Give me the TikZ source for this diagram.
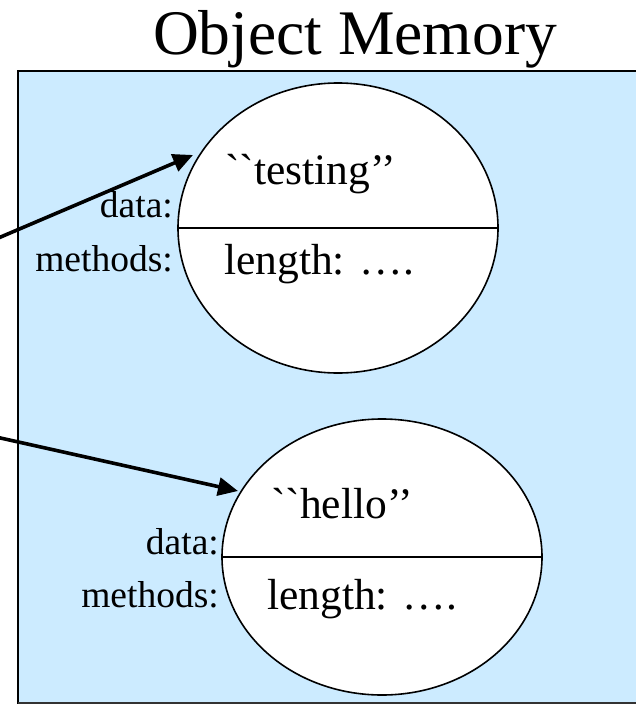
\documentclass[tikz,border=0pt]{standalone}
\usepackage{fontspec}
\setmainfont{Liberation Serif}[Ligatures=TeXOff]
\usetikzlibrary{shapes.geometric,arrows.meta}
\definecolor{memblue}{RGB}{204,235,255}
\begin{document}
\begin{tikzpicture}[x=1pt,y=-1pt,
  obj/.style={ellipse,draw,line width=1.6pt,fill=white,inner sep=0pt,minimum width=320pt},
  big/.style={font=\fontsize{43.5}{48}\selectfont,inner sep=0pt,anchor=base west},
  lbl/.style={font=\fontsize{37.5}{42}\selectfont,inner sep=0pt,anchor=base east},
  ptr/.style={line width=3.6pt,-{Triangle[length=20pt,width=18pt]}}]
\useasboundingbox (0,0) rectangle (635,704);
% memory area
\fill[memblue] (18,71) rectangle (640,703);
\draw[line width=2pt] (18,710) -- (18,71) -- (640,71);
\draw[line width=2pt,black!80] (18,703) -- (640,703);
% title
\node[font=\fontsize{63.5}{70}\selectfont,inner sep=0pt,anchor=base] (title) at (355,54) {Object Memory};
% top object
\node[obj,minimum height=290pt] (o1) at (338,228) {};
\draw[line width=1.6pt] (o1.west) -- (o1.east);
\node[big] (t1) at (225,184) {``testing’’};
\node[big] (m1) at (224,274) {length: ….};
\node[lbl] (d1) at (173,217) {data:};
\node[lbl] (h1) at (173,271) {methods:};
% bottom object
\node[obj,minimum height=276pt] (o2) at (382,557) {};
\draw[line width=1.6pt] (o2.west) -- (o2.east);
\node[big] (t2) at (271,518) {``hello’’};
\node[big] (m2) at (267,609) {length: ….};
\node[lbl] (d2) at (219,554) {data:};
\node[lbl] (h2) at (219,607) {methods:};
% pointers
\coordinate (s1) at (-4,239);
\coordinate (e1) at (193,155);
\coordinate (s2) at (-4,437);
\coordinate (e2) at (238,491);
\draw[ptr] (s1) -- (e1);
\draw[ptr] (s2) -- (e2);
\end{tikzpicture}
\end{document}
